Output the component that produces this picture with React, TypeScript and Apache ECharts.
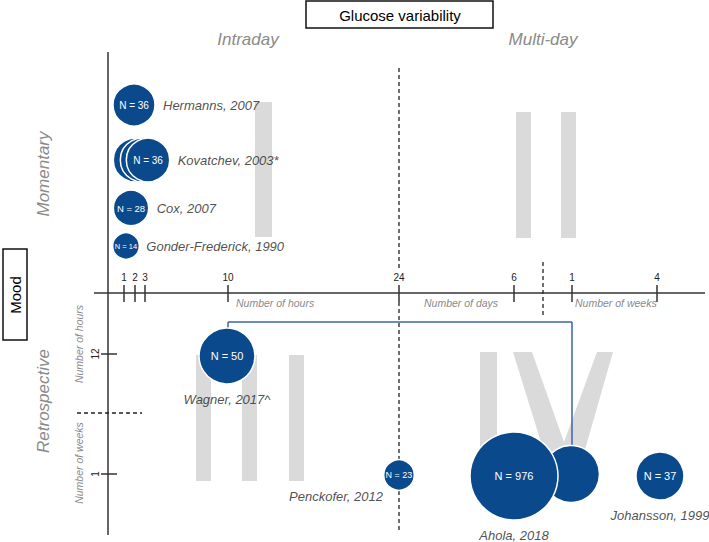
import React, { useEffect, useRef } from "react";
import * as echarts from "echarts";

// ---- data ----
const studies = [
  "Hermanns, 2007",
  "Kovatchev, 2003*",
  "Cox, 2007",
  "Gonder-Frederick, 1990",
  "Wagner, 2017^",
  "Penckofer, 2012",
  "Ahola, 2018",
  "Johansson, 1999",
];
const sampleN = [36, 36, 28, 14, 50, 23, 976, 37];
// diagram coordinates (hidden axes span the whole canvas)
const studyX = [134, 148, 131, 126, 227, 399, 514, 660];
const studyY = [105, 160, 208, 246, 356, 475, 476, 476];
const studyR = [21, 21.7, 17.7, 13.3, 28, 15.3, 44, 24];
// repeated-measure circles drawn behind the main ones
const extraX = [135, 142, 571];
const extraY = [160, 160, 474];
const extraR = [21.7, 21.7, 28.5];

const hourTicks = ["1", "2", "3", "10", "24"];
const dayTicks = ["6"];
const weekTicks = ["1", "4"];
const retroTicks = ["12", "1"];

const BLUE = "#0a4a8c";
const GRAY_TXT = "#8a8a8a";
const BAR = "#dadada";
const FONT = "Liberation Sans, Arial, sans-serif";

export default function App() {
  const ref = useRef<HTMLDivElement>(null);
  useEffect(() => {
    if (!ref.current) return;
    const chart = echarts.init(ref.current, undefined, { renderer: "svg" });

    const hourX = [124, 135, 145, 228, 399];
    const dayX = [514];
    const weekX = [572, 657];
    const tickXs = [...hourX, ...dayX, ...weekX];
    const tickLabels = [...hourTicks, ...dayTicks, ...weekTicks];
    const retroY = [354, 474];

    const graphics: any[] = [];
    const rect = (x: number, y: number, w: number, h: number) =>
      graphics.push({ type: "rect", shape: { x, y, width: w, height: h }, style: { fill: BAR }, z: 0, silent: true });
    // Roman numerals as gray strokes
    rect(255, 102, 17, 135); // I
    rect(516, 112, 15, 126); // II
    rect(561, 112, 15, 126);
    rect(196, 355, 15, 126); // III
    rect(242, 355, 15, 126);
    rect(289, 355, 15, 126);
    rect(480, 352, 17, 129); // IV
    graphics.push({
      type: "polygon",
      shape: { points: [[513, 352], [532, 352], [564, 442], [597, 352], [613, 352], [576, 481], [553, 481]] },
      style: { fill: BAR },
      z: 0,
      silent: true,
    });

    const line = (x1: number, y1: number, x2: number, y2: number, style: any) =>
      graphics.push({ type: "line", shape: { x1, y1, x2, y2 }, style, z: 1, silent: true });
    const axisStyle = { stroke: "#333", lineWidth: 1.5 };
    // axes
    line(94, 293, 705, 293, axisStyle);
    line(108, 52, 108, 535, axisStyle);
    // ticks
    tickXs.forEach((x, i) => {
      line(x, 285, x, 302, axisStyle);
      graphics.push({
        type: "text",
        x,
        y: 277,
        style: { text: tickLabels[i], fontSize: 10, fill: "#222", fontFamily: FONT, align: "center", verticalAlign: "middle" },
        z: 2,
      });
    });
    retroY.forEach((y, i) => {
      line(101, y, 117, y, axisStyle);
      graphics.push({
        type: "text",
        x: 95,
        y,
        rotation: Math.PI / 2,
        style: { text: retroTicks[i], fontSize: 10, fill: "#222", fontFamily: FONT, align: "center", verticalAlign: "middle" },
        z: 2,
      });
    });
    // dashed separators
    const dash = { stroke: "#222", lineWidth: 1.3, lineDash: [4, 3] };
    line(399, 68, 399, 268, dash);
    line(399, 302, 399, 532, dash);
    line(543, 262, 543, 317, dash);
    line(77, 413, 142, 413, dash);
    // connector
    const conn = { stroke: "#3a66a4", lineWidth: 1.5 };
    line(228, 322, 228, 330, conn);
    line(228, 322, 572, 322, conn);
    line(572, 322, 572, 448, conn);

    const txt = (text: string, x: number, y: number, o: any = {}) =>
      graphics.push({
        type: "text",
        x,
        y,
        rotation: o.rot || 0,
        style: {
          text,
          fontSize: o.size || 10.5,
          fill: o.fill || GRAY_TXT,
          fontStyle: o.italic === false ? "normal" : "italic",
          fontFamily: FONT,
          align: o.align || "center",
          verticalAlign: "middle",
        },
        z: 3,
      });
    txt("Intraday", 248, 39, { size: 17 });
    txt("Multi-day", 543, 39, { size: 17 });
    txt("Momentary", 43, 174, { size: 17, rot: Math.PI / 2 });
    txt("Retrospective", 43, 401, { size: 17, rot: Math.PI / 2 });
    txt("Number of hours", 236, 303, { align: "left" });
    txt("Number of days", 424, 303, { align: "left" });
    txt("Number of weeks", 575, 303, { align: "left" });
    txt("Number of hours", 79, 344, { rot: Math.PI / 2 });
    txt("Number of weeks", 79, 463, { rot: Math.PI / 2 });

    // boxes
    graphics.push({ type: "rect", shape: { x: 306, y: 1, width: 187, height: 27 }, style: { fill: "#fff", stroke: "#111", lineWidth: 1.5 }, z: 3 });
    txt("Glucose variability", 400, 15, { size: 15, fill: "#000", italic: false });
    graphics.push({ type: "rect", shape: { x: 3, y: 249, width: 24, height: 91 }, style: { fill: "#fff", stroke: "#111", lineWidth: 1.5 }, z: 3 });
    txt("Mood", 15, 295, { size: 15, fill: "#000", italic: false, rot: Math.PI / 2 });

    const insideSize = [10, 10, 9.5, 7.5, 11, 9, 11, 11];
    const bubbleData = studies.map((s, i) => ({
      name: s,
      value: [studyX[i], studyY[i]],
      symbolSize: studyR[i] * 2,
      label: { fontSize: insideSize[i] },
    }));
    const extraData = extraX.map((x, i) => ({ value: [x, extraY[i]], symbolSize: extraR[i] * 2 }));

    const nameLabel: any[] = [
      { position: "right", distance: 8 },
      { position: "right", distance: 8 },
      { position: "right", distance: 8 },
      { position: "right", distance: 7 },
      { position: "bottom", distance: 9 },
      { position: "bottom", distance: 0, offset: [-63, 0] },
      { position: "bottom", distance: 9 },
      { position: "bottom", distance: 9 },
    ];
    const nameData = studies.map((s, i) => ({
      name: s,
      value: [studyX[i], studyY[i]],
      symbolSize: studyR[i] * 2,
      label: nameLabel[i],
    }));

    chart.setOption({
      animation: false,
      grid: { left: 0, right: 0, top: 0, bottom: 0 },
      xAxis: { type: "value", min: 0, max: 709, show: false },
      yAxis: { type: "value", min: 0, max: 542, inverse: true, show: false },
      series: [
        {
          type: "scatter",
          z: 4,
          silent: true,
          data: extraData,
          itemStyle: { color: BLUE, borderColor: "#fff", borderWidth: 1.5, opacity: 1 },
        },
        {
          type: "scatter",
          z: 5,
          silent: true,
          data: bubbleData,
          itemStyle: { color: BLUE, borderColor: "#fff", borderWidth: 1.5, opacity: 1 },
          label: {
            show: true,
            position: "inside",
            color: "#fff",
            fontFamily: FONT,
            formatter: (p: any) => `N = ${sampleN[p.dataIndex]}`,
          },
        },
        {
          type: "scatter",
          z: 6,
          silent: true,
          data: nameData,
          itemStyle: { color: "rgba(0,0,0,0)" },
          label: {
            show: true,
            color: "#222",
            fontSize: 13,
            fontStyle: "italic",
            fontFamily: FONT,
            formatter: (p: any) => p.name,
          },
        },
      ],
      graphic: graphics,
    });
    return () => chart.dispose();
  }, []);
  return <div ref={ref} style={{ position: "absolute", left: 0, top: 0, width: 709, height: 542 }} />;
}
